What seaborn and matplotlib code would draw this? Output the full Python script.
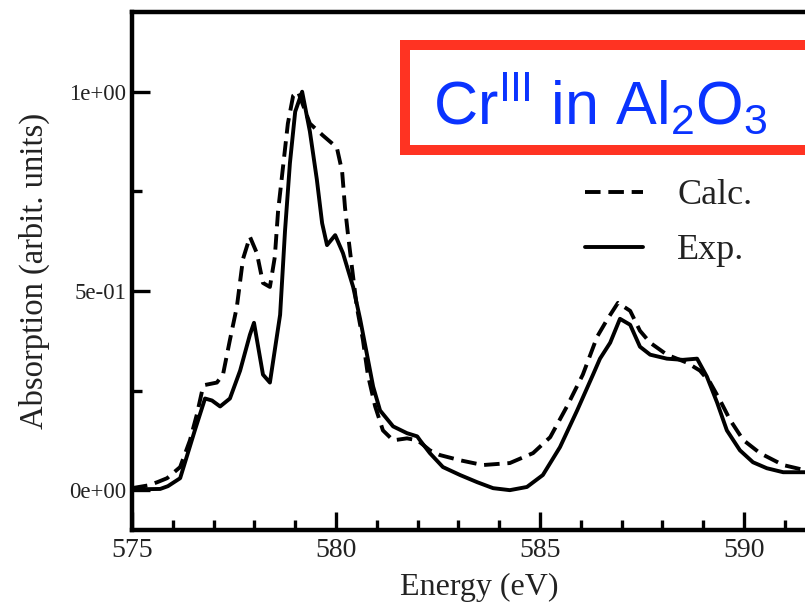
import numpy as np
import pandas as pd
import matplotlib
matplotlib.use("Agg")
import matplotlib.pyplot as plt
from matplotlib.patches import Rectangle
from matplotlib.ticker import MultipleLocator, FuncFormatter
import seaborn as sns

# ---- data ----
exp_energy = [575.00, 575.69, 575.88, 576.18, 576.54, 576.79, 576.96, 577.16, 577.40, 577.65,
              577.89, 577.99, 578.21, 578.38, 578.63, 578.75, 578.87, 579.00, 579.17, 579.36,
              579.53, 579.66, 579.78, 579.98, 580.17, 580.42, 580.59, 580.76, 580.91, 581.08,
              581.40, 581.74, 581.99, 582.06, 582.30, 582.62, 583.04, 583.46, 583.85, 584.26,
              584.68, 585.07, 585.49, 585.91, 586.30, 586.47, 586.72, 586.96, 587.21, 587.45,
              587.70, 588.11, 588.50, 588.85, 589.09, 589.34, 589.58, 589.90, 590.22, 590.56,
              590.96, 591.50]
exp_abs = [0.002, 0.003, 0.010, 0.030, 0.150, 0.230, 0.225, 0.210, 0.230, 0.300,
           0.390, 0.420, 0.290, 0.270, 0.440, 0.650, 0.820, 0.950, 1.000, 0.900,
           0.780, 0.670, 0.615, 0.640, 0.595, 0.510, 0.430, 0.340, 0.260, 0.200,
           0.160, 0.143, 0.135, 0.125, 0.093, 0.058, 0.038, 0.020, 0.005, 0.000,
           0.008, 0.038, 0.108, 0.200, 0.290, 0.330, 0.370, 0.430, 0.415, 0.360,
           0.340, 0.330, 0.327, 0.330, 0.285, 0.220, 0.150, 0.100, 0.070, 0.055,
           0.045, 0.045]

calc_energy = [575.00, 575.40, 575.62, 575.86, 576.18, 576.42, 576.59, 576.72, 576.79, 577.08,
               577.23, 577.40, 577.57, 577.72, 577.89, 578.06, 578.21, 578.38, 578.50, 578.58,
               578.70, 578.82, 578.95, 579.07, 579.36, 579.68, 580.02, 580.15, 580.22, 580.29,
               580.39, 580.51, 580.66, 580.78, 580.96, 581.15, 581.40, 581.74, 582.00, 582.30,
               582.55, 583.04, 583.60, 584.26, 584.83, 585.25, 585.66, 586.05, 586.40, 586.64,
               586.91, 587.21, 587.45, 587.70, 588.11, 588.60, 588.92, 589.17, 589.41, 589.66,
               589.98, 590.39, 590.96, 591.50]
calc_abs = [0.005, 0.012, 0.020, 0.030, 0.058, 0.125, 0.190, 0.250, 0.264, 0.270,
            0.290, 0.377, 0.460, 0.580, 0.636, 0.595, 0.520, 0.510, 0.585, 0.700,
            0.810, 0.920, 0.990, 1.000, 0.920, 0.890, 0.860, 0.800, 0.710, 0.645,
            0.560, 0.460, 0.377, 0.290, 0.210, 0.150, 0.125, 0.130, 0.125, 0.100,
            0.088, 0.075, 0.063, 0.068, 0.093, 0.133, 0.210, 0.290, 0.385, 0.427,
            0.470, 0.450, 0.400, 0.370, 0.340, 0.320, 0.300, 0.270, 0.226, 0.176,
            0.126, 0.093, 0.063, 0.050]

series_labels = ["Calc.", "Exp."]
x_major_ticks = [575, 580, 585, 590]
y_major_ticks = [0.0, 0.5, 1.0]

# ---- style ----
sns.set_style("white")
plt.rcParams["font.family"] = ["Liberation Serif", "DejaVu Serif"]
plt.rcParams["mathtext.fontset"] = "custom"
plt.rcParams["mathtext.rm"] = "Liberation Sans"

W, H = 805, 608
fig = plt.figure(figsize=(W / 100, H / 100), dpi=100)
fig.patch.set_facecolor("white")

x0, x1 = 575.0, 592.0
px_per_ev = 40.8
left_px, top_px, bot_px = 132, 12, 530
right_px = left_px + (x1 - x0) * px_per_ev
ax = fig.add_axes([left_px / W, 1 - bot_px / H, (right_px - left_px) / W, (bot_px - top_px) / H])

df_calc = pd.DataFrame({"Energy": calc_energy, "Absorption": calc_abs})
df_exp = pd.DataFrame({"Energy": exp_energy, "Absorption": exp_abs})

sns.lineplot(data=df_calc, x="Energy", y="Absorption", ax=ax, color="black",
             linewidth=2.8, label=series_labels[0], sort=True, estimator=None)
sns.lineplot(data=df_exp, x="Energy", y="Absorption", ax=ax, color="black",
             linewidth=2.8, label=series_labels[1], sort=True, estimator=None)
ax.lines[0].set_linestyle((0, (4.0, 2.0)))
ax.lines[1].set_linestyle("-")

ax.set_xlim(x0, x1)
ax.set_ylim(-0.10, 1.20)
ax.set_xticks(x_major_ticks)
ax.xaxis.set_minor_locator(MultipleLocator(1))
ax.set_yticks(y_major_ticks)
ax.yaxis.set_minor_locator(MultipleLocator(0.25))
ax.yaxis.set_major_formatter(FuncFormatter(lambda v, p: f"{v:.0e}"))

ax.tick_params(axis="both", which="both", bottom=True, left=True, top=False, right=False)
ax.tick_params(axis="both", which="major", direction="in", length=13, width=2.4, color="black")
ax.tick_params(axis="both", which="minor", direction="in", length=7, width=2.4, color="black")
ax.tick_params(axis="x", which="major", labelsize=20, pad=6, labelcolor="#222222")
ax.tick_params(axis="y", which="major", labelsize=16.5, pad=4, labelcolor="#222222")

for s in ax.spines.values():
    s.set_linewidth(3.2)
    s.set_color("black")

ax.set_xlabel("Energy (eV)", fontsize=23, color="#222222", labelpad=7)
ax.set_ylabel("Absorption (arbit. units)", fontsize=23.5, color="#222222", labelpad=14)

leg = ax.legend(loc="upper left", bbox_to_anchor=(585 / W, 1 - 179 / H),
                bbox_transform=fig.transFigure, frameon=False, fontsize=26,
                handlelength=1.6, handletextpad=0.95, labelspacing=0.6,
                borderaxespad=0, borderpad=0)
for t in leg.get_texts():
    t.set_color("#222222")

# annotation box
bw = 10
rect = Rectangle(((400 + bw / 2) / W, 1 - (155 - bw / 2) / H), (440) / W, (115 - bw) / H,
                 transform=fig.transFigure, facecolor="white", edgecolor="#FF3322",
                 linewidth=bw * 0.72, zorder=5, clip_on=False)
fig.add_artist(rect)
fig.text(433 / W, 1 - 124 / H,
         r"Cr$^{\mathregular{III}}$ in Al$_{\mathregular{2}}$O$_{\mathregular{3}}$",
         fontsize=44, color="#0A33FF", family="Liberation Sans", ha="left",
         va="baseline", zorder=6)

fig.savefig("out.png", dpi=100, facecolor="white")
